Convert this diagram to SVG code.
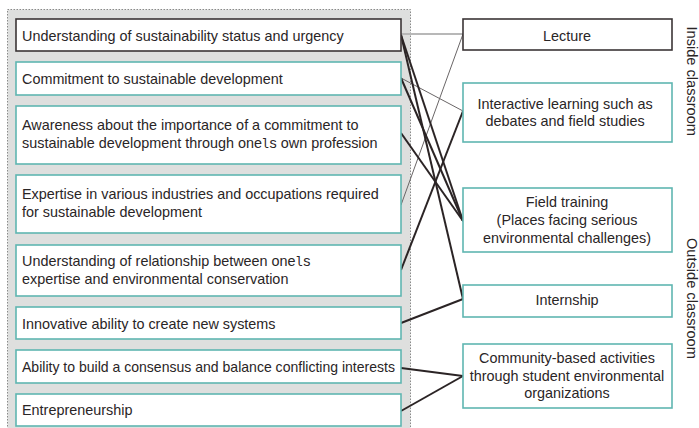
<svg xmlns="http://www.w3.org/2000/svg" width="699" height="428" viewBox="0 0 699 428">
<style>
.bg{fill:#fff}
.panel{fill:#dedfde;stroke:#8a8a8a;stroke-width:1;stroke-dasharray:1.5 1.5}
.tb{fill:#fff;stroke:#5fb6b1;stroke-width:1.6}
.db{fill:#fff;stroke:#3b3536;stroke-width:1.6}
text{font-family:"Liberation Sans",Arial,sans-serif;font-size:14.4px;fill:#2a2526}
.c{text-anchor:middle}
.mono{font-family:"DejaVu Sans Mono","Liberation Mono",monospace;font-size:12.5px}
.ln{fill:none;stroke:#2b2425;stroke-width:2}
.lg{fill:none;stroke:#b8b8b8;stroke-width:2}
.tg{fill:none;stroke:#6a6667;stroke-width:1}
</style>
<rect class="bg" x="0" y="0" width="699" height="428"/>
<rect class="panel" x="7.5" y="9.5" width="403" height="425"/>
<g id="connectors">
<line class="lg" x1="401" y1="34" x2="463" y2="34"/>
<line class="tg" x1="463" y1="34" x2="401" y2="205"/>
<line class="tg" x1="401" y1="78" x2="463" y2="111"/>
<line class="ln" x1="401" y1="35" x2="463" y2="221"/>
<line class="ln" x1="401" y1="35" x2="463" y2="299"/>
<line class="ln" x1="401" y1="78" x2="463" y2="221"/>
<line class="ln" x1="401" y1="133" x2="463" y2="221"/>
<line class="ln" x1="401" y1="270" x2="463" y2="111"/>
<line class="ln" x1="401" y1="323" x2="463" y2="299"/>
<line class="ln" x1="401" y1="368" x2="463" y2="376"/>
<line class="ln" x1="401" y1="411" x2="463" y2="376"/>
</g>
<g id="n1"><rect class="db" x="16" y="19" width="385" height="32"/><text x="22" y="40.5">Understanding of sustainability status and urgency</text></g>
<g id="n2"><rect class="tb" x="16" y="62" width="385" height="33"/><text x="22" y="83.5">Commitment to sustainable development</text></g>
<g id="n3"><rect class="tb" x="16" y="106" width="385" height="58"/><text x="22" y="129.5">Awareness about the importance of a commitment to</text><text x="22" y="147.5">sustainable development through one<tspan class="mono">l</tspan>s own profession</text></g>
<g id="n4"><rect class="tb" x="16" y="175" width="385" height="58"/><text x="22" y="199">Expertise in various industries and occupations required</text><text x="22" y="216.5">for sustainable development</text></g>
<g id="n5"><rect class="tb" x="16" y="245" width="385" height="51"/><text x="22" y="266">Understanding of relationship between one<tspan class="mono">l</tspan>s</text><text x="22" y="283.5">expertise and environmental conservation</text></g>
<g id="n6"><rect class="tb" x="16" y="307" width="385" height="32"/><text x="22" y="328.5">Innovative ability to create new systems</text></g>
<g id="n7"><rect class="tb" x="16" y="350" width="385" height="33"/><text x="22" y="371.5" textLength="373" lengthAdjust="spacingAndGlyphs">Ability to build a consensus and balance conflicting interests</text></g>
<g id="n8"><rect class="tb" x="16" y="394" width="385" height="32"/><text x="22" y="415">Entrepreneurship</text></g>
<g id="r1"><rect class="db" x="463" y="19" width="209" height="31"/><text class="c" x="567" y="40.5">Lecture</text></g>
<g id="r2"><rect class="tb" x="463" y="83" width="209" height="59"/><text class="c" x="565" y="108.5">Interactive learning such as</text><text class="c" x="565" y="126">debates and field studies</text></g>
<g id="r3"><rect class="tb" x="463" y="188" width="209" height="64"/><text class="c" x="567" y="206.5">Field training</text><text class="c" x="567" y="225">(Places facing serious</text><text class="c" x="567" y="243">environmental challenges)</text></g>
<g id="r4"><rect class="tb" x="463" y="285" width="209" height="32"/><text class="c" x="567" y="305">Internship</text></g>
<g id="r5"><rect class="tb" x="463" y="344" width="209" height="64"/><text class="c" x="567" y="363">Community-based activities</text><text class="c" x="567" y="380.5">through student environmental</text><text class="c" x="567" y="398">organizations</text></g>
<g id="labels">
<text transform="translate(687,26.5) rotate(90)" style="font-size:14.6px">Inside classroom</text>
<text transform="translate(687,238) rotate(90)" style="font-size:14.6px">Outside classroom</text>
</g>
</svg>
